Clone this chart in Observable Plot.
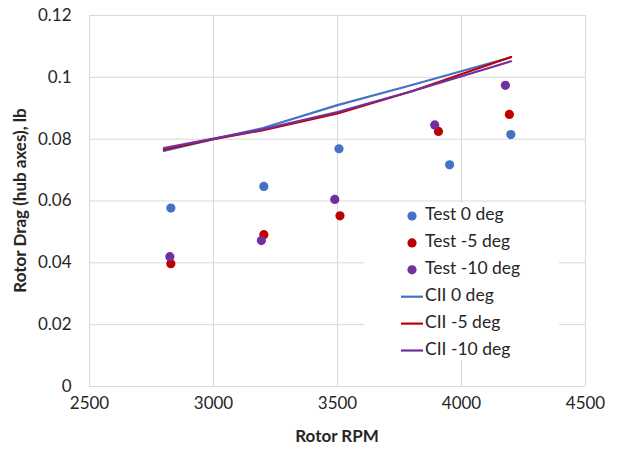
<!DOCTYPE html>
<html>
<head>
<meta charset="utf-8">
<script src="https://cdn.jsdelivr.net/npm/d3@7"></script>
<script src="https://cdn.jsdelivr.net/npm/@observablehq/plot@0.6"></script>
<style>
  html, body { margin: 0; padding: 0; background: #fff; }
  #chart { width: 618px; height: 449px; }
</style>
</head>
<body>
<div id="chart"></div>
<script>
// Test data (points)
const testRpm0 = [2828, 3203, 3506, 3952, 4199];
const testDrag0 = [0.0577, 0.0647, 0.0769, 0.0717, 0.0815];
const testRpm5 = [2828, 3203, 3510, 3907, 4193];
const testDrag5 = [0.0397, 0.0491, 0.0552, 0.0825, 0.0880];
const testRpm10 = [2824, 3193, 3489, 3892, 4177];
const testDrag10 = [0.0420, 0.0472, 0.0605, 0.0846, 0.0974];

// CII predictions (lines)
const ciiRpm = [2800, 3000, 3200, 3500, 3800, 4200];
const ciiDrag0 = [0.0762, 0.0800, 0.0836, 0.0910, 0.0975, 0.1065];
const ciiDrag5 = [0.0766, 0.0800, 0.0829, 0.0883, 0.0955, 0.1066];
const ciiDrag10 = [0.0771, 0.0802, 0.0832, 0.0888, 0.0955, 0.1052];

const xTicks = [2500, 3000, 3500, 4000, 4500];
const yTicks = [0, 0.02, 0.04, 0.06, 0.08, 0.10, 0.12];

const testNames = ["Test 0 deg", "Test -5 deg", "Test -10 deg"];
const ciiNames = ["CII 0 deg", "CII -5 deg", "CII -10 deg"];
const colors = ["#4472C4", "#C00000", "#7030A0"];

const tests = [[testRpm0, testDrag0], [testRpm5, testDrag5], [testRpm10, testDrag10]]
  .flatMap(([xs, ys], i) => xs.map((x, j) => ({series: testNames[i], rpm: x, drag: ys[j], color: colors[i]})));
const ciis = [ciiDrag0, ciiDrag5, ciiDrag10]
  .flatMap((ys, i) => ciiRpm.map((x, j) => ({series: ciiNames[i], rpm: x, drag: ys[j], color: colors[i]})));

const font = "Lato, 'Open Sans', sans-serif";
const textColor = "#262626";

const chart = Plot.plot({
  width: 618,
  height: 449,
  marginLeft: 89,
  marginRight: 33,
  marginTop: 15,
  marginBottom: 63,
  style: {fontFamily: font, fontSize: "17px", color: textColor, background: "#fff"},
  x: {domain: [2500, 4500]},
  y: {domain: [0, 0.12]},
  marks: [
    Plot.gridX(xTicks, {stroke: "#d9d9d9", strokeOpacity: 1, strokeWidth: 1}),
    Plot.gridY(yTicks, {stroke: "#d9d9d9", strokeOpacity: 1, strokeWidth: 1}),
    Plot.axisX(xTicks, {tickSize: 0, tickPadding: 10, tickFormat: d3.format("d"), label: null, fill: textColor, fontSize: 17}),
    Plot.axisY(yTicks, {tickSize: 0, tickPadding: 18, tickFormat: d3.format("~g"), label: null, fill: textColor, fontSize: 17}),
    Plot.dot(tests, {x: "rpm", y: "drag", r: 4.6, fill: "color", stroke: null}),
    Plot.line(ciis, {x: "rpm", y: "drag", z: "series", stroke: "color", strokeWidth: 2.2})
  ]
});

document.getElementById("chart").appendChild(chart);

const svg = d3.select(chart);
const xr = chart.scale("x").range;
const yr = chart.scale("y").range;

// Axis titles
svg.append("text")
  .attr("x", (xr[0] + xr[1]) / 2).attr("y", 438)
  .attr("text-anchor", "middle").attr("dominant-baseline", "middle")
  .attr("font-weight", "bold").attr("font-size", 17).attr("fill", textColor)
  .attr("font-family", font)
  .text("Rotor RPM");
svg.append("text")
  .attr("transform", `translate(22,${(yr[0] + yr[1]) / 2}) rotate(-90)`)
  .attr("text-anchor", "middle").attr("dominant-baseline", "middle")
  .attr("font-weight", "bold").attr("font-size", 17).attr("fill", textColor)
  .attr("font-family", font)
  .text("Rotor Drag (hub axes), lb");

// Legend
const lg = svg.append("g").attr("font-family", font).attr("font-size", 17.5)
  .attr("fill", textColor).attr("text-anchor", "start");
lg.append("rect").attr("x", 364).attr("y", 203).attr("width", 195).attr("height", 157).attr("fill", "#fff");
const rowY = i => 216 + i * 26.9;
testNames.forEach((name, i) => {
  lg.append("circle").attr("cx", 412).attr("cy", rowY(i)).attr("r", 4.6).attr("fill", colors[i]);
  lg.append("text").attr("x", 425).attr("y", rowY(i)).attr("dominant-baseline", "middle").text(name);
});
ciiNames.forEach((name, k) => {
  const i = k + 3;
  lg.append("line").attr("x1", 401).attr("x2", 423).attr("y1", rowY(i)).attr("y2", rowY(i))
    .attr("stroke", colors[k]).attr("stroke-width", 2.2);
  lg.append("text").attr("x", 425).attr("y", rowY(i)).attr("dominant-baseline", "middle").text(name);
});
</script>
</body>
</html>
